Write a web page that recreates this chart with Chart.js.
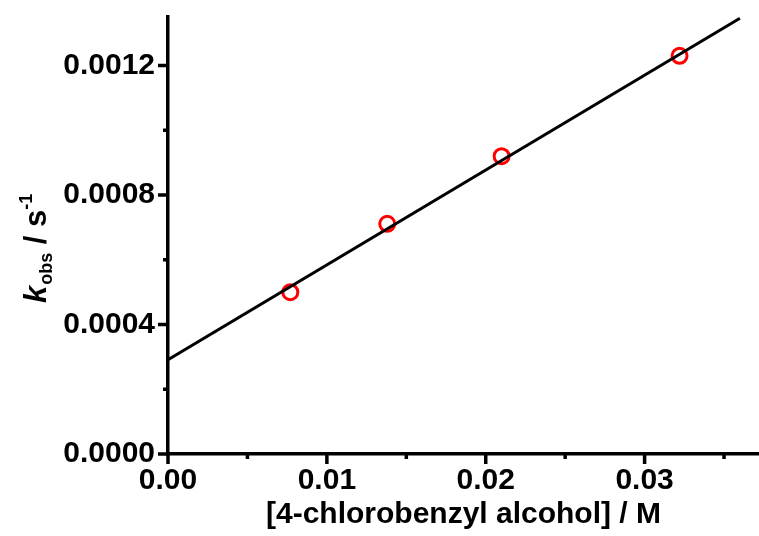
<!DOCTYPE html>
<html>
<head>
<meta charset="utf-8">
<script src="https://cdn.jsdelivr.net/npm/chart.js@4"></script>
<style>
  html, body { margin: 0; padding: 0; background: #fff; }
  #wrap { width: 759px; height: 536px; }
</style>
</head>
<body>
<div id="wrap"><canvas id="myChart" width="759" height="536"></canvas></div>
<script>
  // measured points: [4-chlorobenzyl alcohol] (M) vs k_obs (s^-1)
  const concX = [0.0077, 0.0138, 0.0210, 0.0322];
  const kObs = [0.000500, 0.000711, 0.000920, 0.001230];

  // linear fit line, endpoints
  const fitX = [0, 0.0360];
  const fitY = [0.000291, 0.001346];

  const xMajor = [0, 0.01, 0.02, 0.03];
  const xMinor = [0.005, 0.015, 0.025, 0.035];
  const yMajor = [0, 0.0004, 0.0008, 0.0012];
  const yMinor = [0.0002, 0.0006, 0.0010];

  const FONT = '"Liberation Sans", Arial, Helvetica, sans-serif';

  const points = concX.map((x, i) => ({ x: x, y: kObs[i] }));
  const fitLine = fitX.map((x, i) => ({ x: x, y: fitY[i] }));

  // tick marks pointing outward, plus the rich y axis title
  const axisDecor = {
    id: 'axisDecor',
    afterDraw(chart) {
      const { ctx, scales: { x, y } } = chart;
      const x0 = x.getPixelForValue(0);
      const y0 = y.getPixelForValue(0);
      ctx.save();
      ctx.strokeStyle = '#000';
      ctx.lineWidth = 3.5;
      ctx.lineCap = 'butt';
      ctx.beginPath();
      xMajor.forEach(v => { const p = x.getPixelForValue(v); ctx.moveTo(p, y0); ctx.lineTo(p, y0 + 10); });
      xMinor.forEach(v => { const p = x.getPixelForValue(v); ctx.moveTo(p, y0); ctx.lineTo(p, y0 + 5); });
      yMajor.forEach(v => { const p = y.getPixelForValue(v); ctx.moveTo(x0, p); ctx.lineTo(x0 - 10, p); });
      yMinor.forEach(v => { const p = y.getPixelForValue(v); ctx.moveTo(x0, p); ctx.lineTo(x0 - 5, p); });
      ctx.stroke();

      // y title: k_obs / s^-1
      ctx.translate(46, 303);
      ctx.rotate(-Math.PI / 2);
      ctx.fillStyle = '#000';
      ctx.textBaseline = 'alphabetic';
      ctx.textAlign = 'left';
      let pos = 0;
      ctx.font = 'italic bold 31px ' + FONT;
      ctx.fillText('k', pos, 0);
      pos += ctx.measureText('k').width + 1;
      ctx.font = 'bold 18px ' + FONT;
      ctx.fillText('obs', pos, 6);
      pos += ctx.measureText('obs').width;
      ctx.font = 'bold 31px ' + FONT;
      ctx.fillText(' / s', pos, 0);
      pos += ctx.measureText(' / s').width;
      ctx.font = 'bold 18px ' + FONT;
      ctx.fillText('-1', pos, -14);
      ctx.restore();
    }
  };

  const config = {
    type: 'scatter',
    data: {
      datasets: [{
        label: 'Fit',
        type: 'line',
        data: fitLine,
        borderColor: '#000',
        borderWidth: 3,
        pointRadius: 0,
        fill: false,
        order: 0
      }, {
        label: 'k_obs',
        data: points,
        pointStyle: 'circle',
        pointRadius: 7.5,
        pointBorderWidth: 3,
        pointBorderColor: '#ff0000',
        pointBackgroundColor: 'rgba(0,0,0,0)',
        order: 1
      }]
    },
    options: {
      responsive: false,
      animation: false,
      events: [],
      layout: { autoPadding: false, padding: { top: 17, right: 0, left: 0, bottom: 0 } },
      plugins: {
        legend: { display: false },
        tooltip: { enabled: false }
      },
      scales: {
        x: {
          type: 'linear',
          min: 0,
          max: 0.0372,
          afterBuildTicks: s => { s.ticks = xMajor.map(v => ({ value: v })); },
          afterFit: s => { s.height = 82; s.paddingLeft = 0; s.paddingRight = 0; },
          grid: { display: false, drawTicks: false },
          border: { display: true, color: '#000', width: 3.5 },
          ticks: {
            color: '#000',
            padding: 9,
            maxRotation: 0,
            font: { family: FONT, size: 30, weight: 'bold' },
            callback: v => v.toFixed(2)
          },
          title: {
            display: true,
            text: '[4-chlorobenzyl alcohol] / M',
            color: '#000',
            font: { family: FONT, size: 30, weight: 'bold' },
            padding: { top: 0, bottom: 3 }
          }
        },
        y: {
          type: 'linear',
          min: 0,
          max: 0.00135,
          afterBuildTicks: s => { s.ticks = yMajor.map(v => ({ value: v })); },
          afterFit: s => { s.width = 168; s.paddingTop = 0; s.paddingBottom = 0; },
          grid: { display: false, drawTicks: false },
          border: { display: true, color: '#000', width: 3.5 },
          ticks: {
            color: '#000',
            padding: 13,
            font: { family: FONT, size: 30, weight: 'bold' },
            callback: v => v.toFixed(4)
          }
        }
      }
    },
    plugins: [axisDecor]
  };

  const myChart = new Chart(document.getElementById('myChart'), config);
</script>
</body>
</html>
